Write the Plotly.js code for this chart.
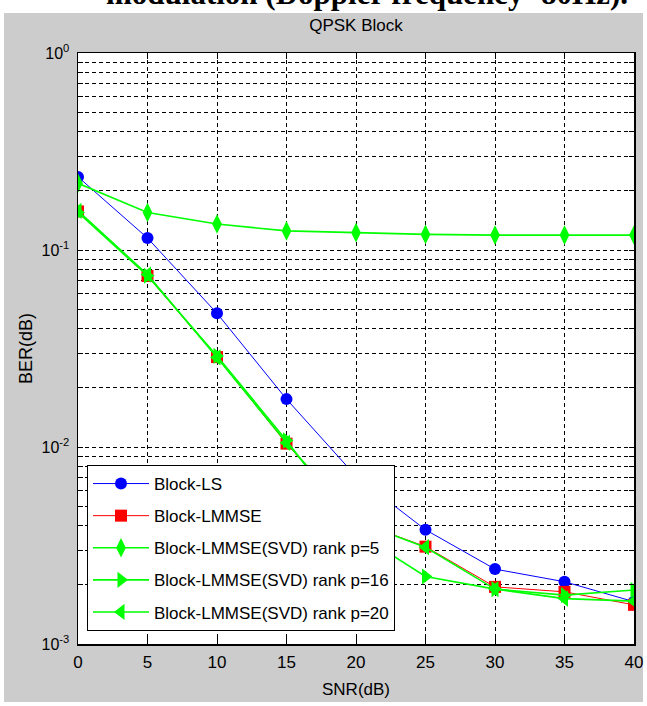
<!DOCTYPE html>
<html>
<head>
<meta charset="utf-8">
<script src="https://cdn.plot.ly/plotly-3.0.1.min.js"></script>
<style>
  html, body { margin:0; padding:0; background:#ffffff; width:647px; height:706px; overflow:hidden; }
  #bg { position:absolute; left:4px; top:13px; width:639px; height:689px; background:#cccccc; }
  #chart { position:absolute; left:0; top:0; width:647px; height:706px; }
</style>
</head>
<body>
<div id="bg"></div>
<div id="chart"></div>
<script>
// ---- data ----
const snr = [0, 5, 10, 15, 20, 25, 30, 35, 40];
const berLS = [0.235, 0.115, 0.0477, 0.0175, 0.0071, 0.0038, 0.0024, 0.00207, 0.00164];
const berLMMSE = [0.157, 0.0738, 0.0286, 0.0104, 0.0042, 0.00312, 0.00195, 0.00184, 0.00158];
const berSVD5 = [0.218, 0.155, 0.1355, 0.125, 0.1225, 0.120, 0.119, 0.119, 0.119];
const berSVD16 = [0.155, 0.074, 0.029, 0.0108, 0.0037, 0.0022, 0.0019, 0.00177, 0.00188];
const berSVD20 = [0.158, 0.075, 0.0285, 0.0105, 0.0042, 0.0031, 0.0019, 0.0017, 0.00165];
const seriesNames = ['Block-LS', 'Block-LMMSE', 'Block-LMMSE(SVD) rank p=5',
                     'Block-LMMSE(SVD) rank p=16', 'Block-LMMSE(SVD) rank p=20'];
const xTicks = [0, 5, 10, 15, 20, 25, 30, 35, 40];

// y tick values: every 1..9 per decade, labels only on decades
const yTickVals = [], yTickText = [];
for (let d = -3; d <= 0; d++) {
  const lim = d === 0 ? 1 : 9;
  for (let m = 1; m <= lim; m++) {
    yTickVals.push(m * Math.pow(10, d));
    yTickText.push(m === 1 ? ('10<sup>' + d + '</sup>') : ' ');
  }
}

const font = 'Arial, "Liberation Sans", sans-serif';
const green = '#00ff00';

function tr(y, name, color, symbol, size, width, group) {
  return {
    x: snr, y: y, name: name, type: 'scatter', mode: 'lines+markers',
    legendgroup: group,
    line: {color: color, width: width},
    marker: {symbol: symbol, size: size, color: color, line: {width: 0}}
  };
}

const data = [
  tr(berLS, seriesNames[0], '#0000ff', 'circle', 12, 1, 'a'),
  tr(berLMMSE, seriesNames[1], '#ff0000', 'square', 12, 1, 'b'),
  tr(berSVD5, seriesNames[2], green, 'diamond-tall', 14, 1.6, 'c'),
  tr(berSVD16, seriesNames[3], green, 'triangle-right', 14, 1.6, 'd'),
  tr(berSVD20, seriesNames[4], green, 'triangle-left', 14, 1.6, 'e')
];

const layout = {
  width: 647, height: 706,
  margin: {l: 78, r: 13, t: 53, b: 62},
  paper_bgcolor: 'rgba(0,0,0,0)',
  plot_bgcolor: '#ffffff',
  showlegend: true,
  font: {family: font, color: '#000000', size: 16},
  title: {text: 'QPSK Block', x: 0.5, xref: 'paper', xanchor: 'center',
          y: 1 - 25/706, yref: 'container', yanchor: 'middle',
          font: {family: font, size: 17, color: '#000'}},
  xaxis: {
    type: 'linear', range: [0, 40], tickmode: 'array', tickvals: xTicks,
    ticks: 'inside', ticklen: 6, tickcolor: '#000', mirror: 'ticks',
    showline: true, linecolor: '#000', linewidth: 1.5,
    showgrid: true, gridcolor: '#000', gridwidth: 1, griddash: '4px,3px',
    zeroline: false, tickfont: {family: font, size: 17, color: '#000'},
    ticklabelstandoff: 2,
    title: {text: 'SNR(dB)', font: {family: font, size: 17, color: '#000'}, standoff: 12}
  },
  yaxis: {
    type: 'log', range: [-3, 0], tickmode: 'array', tickvals: yTickVals, ticktext: yTickText,
    ticks: 'inside', ticklen: 5, tickcolor: '#000', mirror: 'ticks',
    showline: true, linecolor: '#000', linewidth: 1.5,
    showgrid: true, gridcolor: '#000', gridwidth: 1, griddash: '4px,3px',
    zeroline: false, tickfont: {family: font, size: 16, color: '#000'},
    ticklabelstandoff: 4,
    title: {text: 'BER(dB)', font: {family: font, size: 18, color: '#000'}, standoff: 4}
  },
  legend: {
    x: 9/556, y: (644 - 465)/591, xanchor: 'left', yanchor: 'top',
    bgcolor: '#ffffff', bordercolor: '#000', borderwidth: 1,
    font: {family: font, size: 17, color: '#000'},
    tracegroupgap: 7, itemwidth: 56, traceorder: 'grouped'
  },
  annotations: [{
    text: '<b>modulation (Doppler frequency=80Hz).</b>', showarrow: false,
    xref: 'paper', yref: 'paper', x: (367 - 78)/556, xanchor: 'center',
    y: (644 - 13)/591, yanchor: 'bottom',
    font: {family: '"Liberation Serif", "Times New Roman", serif', size: 31, color: '#000'}
  }]
};

Plotly.newPlot('chart', data, layout, {staticPlot: true, displayModeBar: false});
</script>
</body>
</html>
